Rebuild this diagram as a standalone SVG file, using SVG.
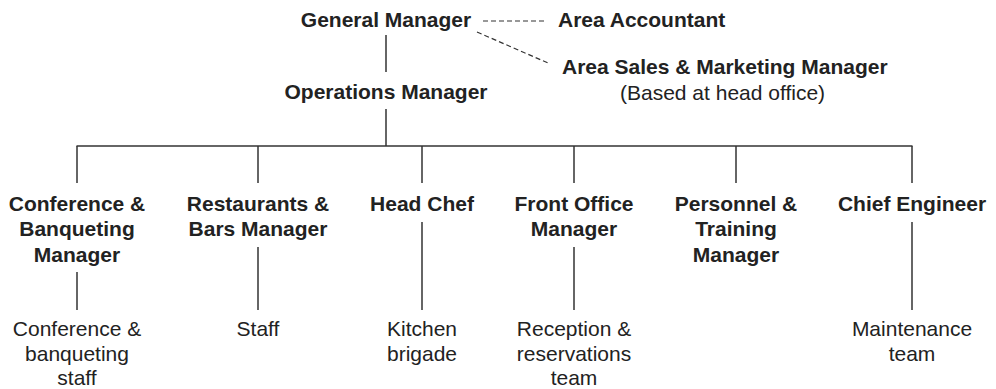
<svg xmlns="http://www.w3.org/2000/svg" width="996" height="389" viewBox="0 0 996 389">
<style>
.b{font-family:"Liberation Sans",Arial,Helvetica,sans-serif;font-size:21px;font-weight:bold;fill:#222;text-anchor:middle}
.r{font-family:"Liberation Sans",Arial,Helvetica,sans-serif;font-size:21px;fill:#222;text-anchor:middle}
.s{text-anchor:start}
.ln{stroke:#333;stroke-width:1.5;fill:none}
.dash{stroke:#333;stroke-width:1.2;fill:none;stroke-dasharray:5 3}
</style>
<rect width="996" height="389" fill="#fff"/>
<g id="connectors">
<line class="dash" x1="483" y1="21" x2="547" y2="21"/>
<line class="dash" x1="477" y1="32" x2="548" y2="63"/>
<line class="ln" x1="386" y1="35" x2="386" y2="72"/>
<line class="ln" x1="386" y1="109" x2="386" y2="146"/>
<line class="ln" x1="76.5" y1="146" x2="912.5" y2="146"/>
<line class="ln" x1="77" y1="146" x2="77" y2="183"/>
<line class="ln" x1="258" y1="146" x2="258" y2="183"/>
<line class="ln" x1="422" y1="146" x2="422" y2="183"/>
<line class="ln" x1="574" y1="146" x2="574" y2="183"/>
<line class="ln" x1="736" y1="146" x2="736" y2="183"/>
<line class="ln" x1="912" y1="146" x2="912" y2="183"/>
<line class="ln" x1="77" y1="272" x2="77" y2="310"/>
<line class="ln" x1="258" y1="247" x2="258" y2="310"/>
<line class="ln" x1="422" y1="222" x2="422" y2="310"/>
<line class="ln" x1="574" y1="247" x2="574" y2="310"/>
<line class="ln" x1="912" y1="222" x2="912" y2="310"/>
</g>
<g id="general-manager"><text class="b" x="386" y="27">General Manager</text></g>
<g id="area-accountant"><text class="b s" x="558" y="27">Area Accountant</text></g>
<g id="area-sales"><text class="b s" x="562" y="74">Area Sales &amp; Marketing Manager</text><text class="r s" x="620" y="100">(Based at head office)</text></g>
<g id="operations-manager"><text class="b" x="386" y="99">Operations Manager</text></g>
<g id="conference-manager"><text class="b" x="77" y="210.5">Conference &amp;</text><text class="b" x="77" y="236">Banqueting</text><text class="b" x="77" y="261.5">Manager</text></g>
<g id="restaurants-manager"><text class="b" x="258" y="210.5">Restaurants &amp;</text><text class="b" x="258" y="236">Bars Manager</text></g>
<g id="head-chef"><text class="b" x="422" y="210.5">Head Chef</text></g>
<g id="front-office-manager"><text class="b" x="574" y="210.5">Front Office</text><text class="b" x="574" y="236">Manager</text></g>
<g id="personnel-manager"><text class="b" x="736" y="210.5">Personnel &amp;</text><text class="b" x="736" y="236">Training</text><text class="b" x="736" y="261.5">Manager</text></g>
<g id="chief-engineer"><text class="b" x="912" y="210.5">Chief Engineer</text></g>
<g id="conference-staff"><text class="r" x="77" y="336">Conference &amp;</text><text class="r" x="77" y="361">banqueting</text><text class="r" x="77" y="384.5">staff</text></g>
<g id="staff"><text class="r" x="258" y="336">Staff</text></g>
<g id="kitchen-brigade"><text class="r" x="422" y="336">Kitchen</text><text class="r" x="422" y="361">brigade</text></g>
<g id="reception-team"><text class="r" x="574" y="336">Reception &amp;</text><text class="r" x="574" y="361">reservations</text><text class="r" x="574" y="384.5">team</text></g>
<g id="maintenance-team"><text class="r" x="912" y="336">Maintenance</text><text class="r" x="912" y="361">team</text></g>
</svg>
